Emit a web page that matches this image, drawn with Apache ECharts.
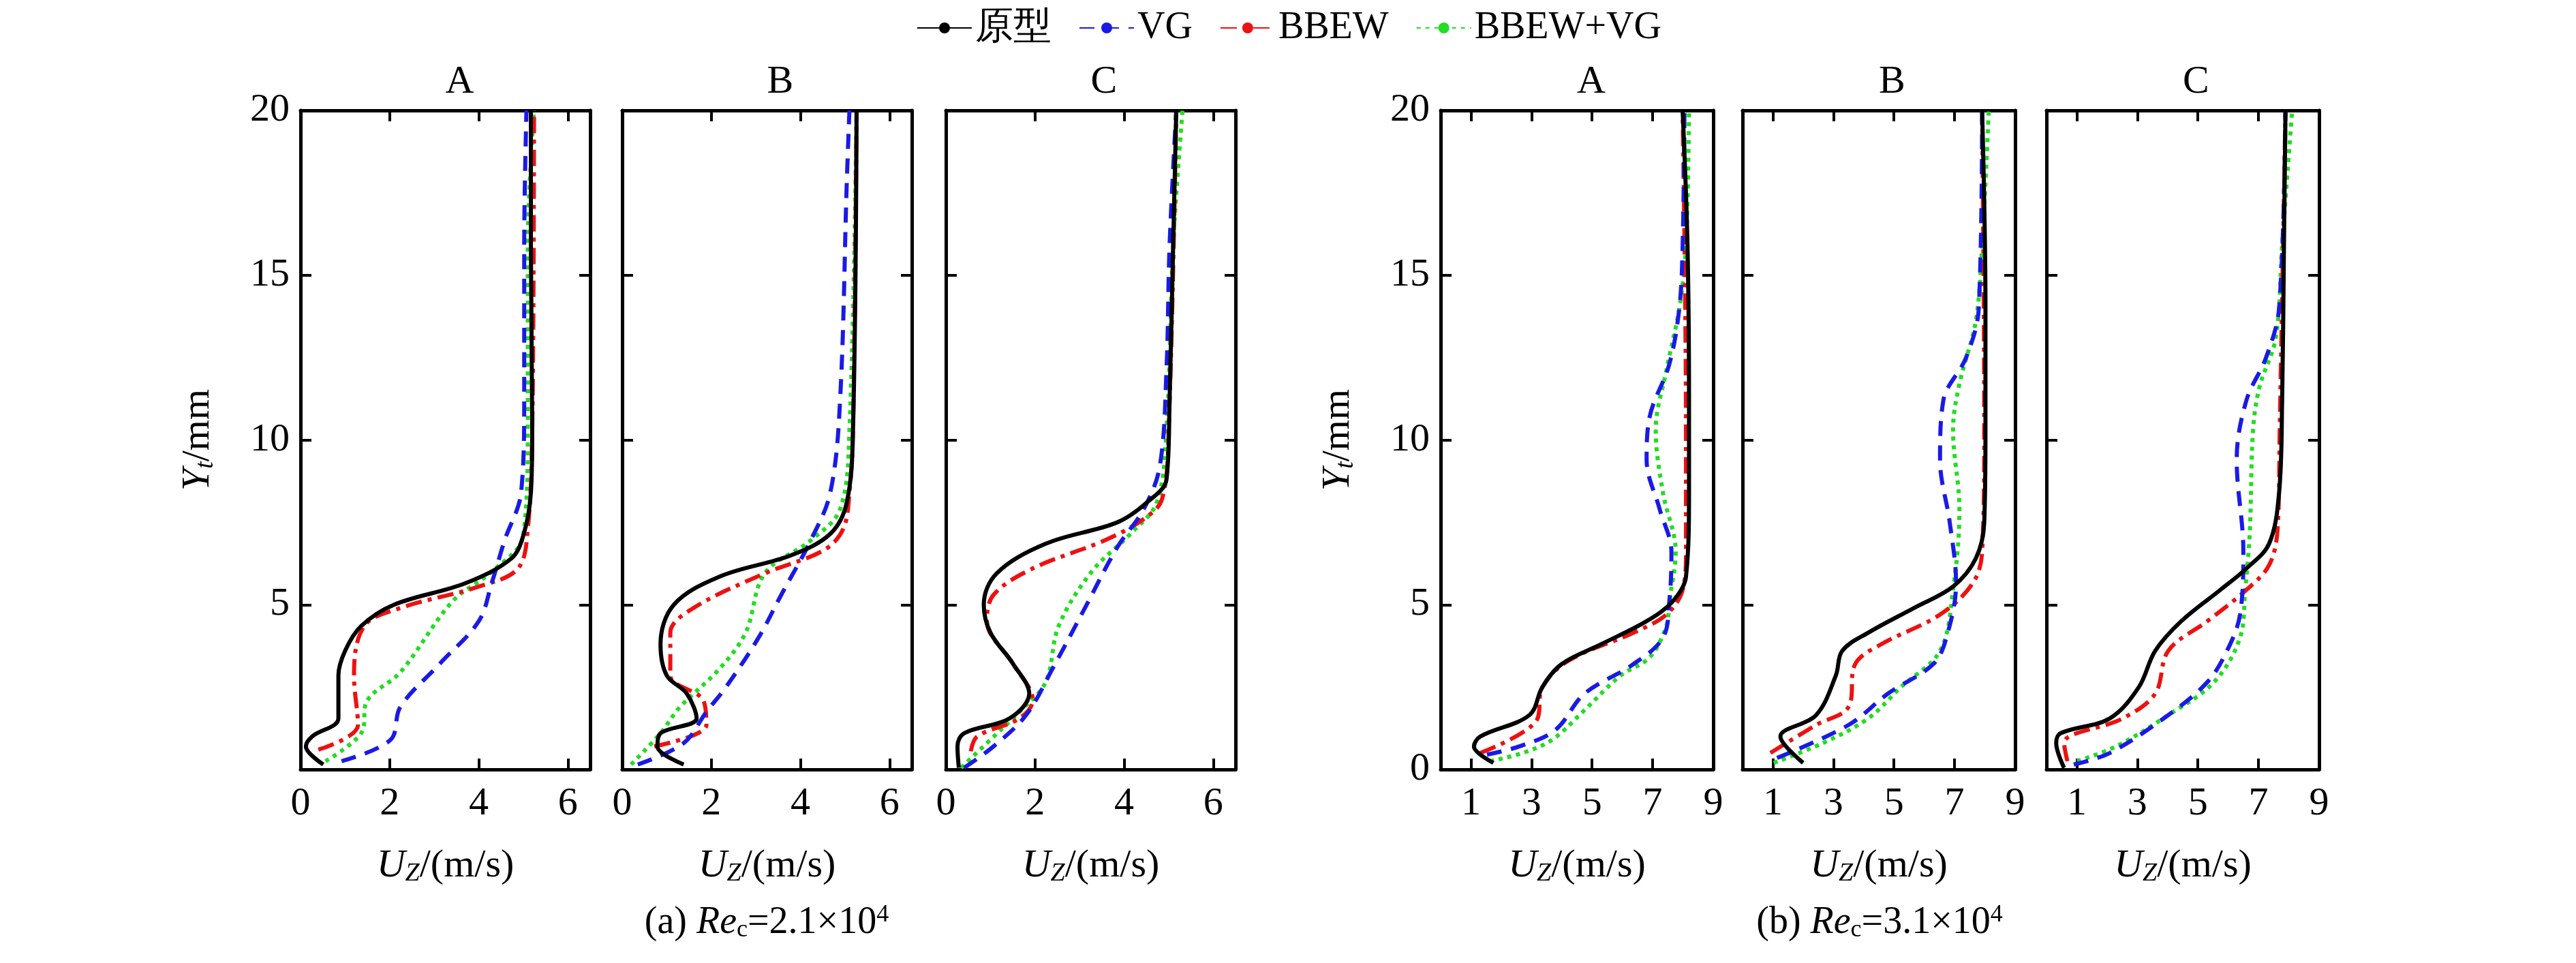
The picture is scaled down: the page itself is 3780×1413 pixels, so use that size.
<!DOCTYPE html>
<html><head><meta charset="utf-8">
<script src="https://cdn.jsdelivr.net/npm/echarts@6/dist/echarts.min.js"></script>
<style>html,body{margin:0;background:#fff}#c{width:3780px;height:1413px}</style>
</head><body><div id="c"></div>
<script>
const seriesNames = ['原型','VG','BBEW','BBEW+VG'];
const panelTitles = ['A','B','C','A','B','C'];
const yTicks_a = [5,10,15,20];
const yTicks_b = [0,5,10,15,20];
const xTicks_a = [0,2,4,6];
const xTicks_b = [1,3,5,7,9];

// (a) Re=2.1e4
const aA_proto = [[0.51,0.15],[0.12,0.7],[0.26,1.0],[0.85,1.55],[0.85,2.85],[1.0,3.6],[1.36,4.35],[2.1,5.0],[3.7,5.65],[4.73,6.4],[5.0,7.1],[5.17,8.4],[5.2,10.3],[5.17,15.9],[5.17,20]];
const aA_vg = [[0.92,0.25],[2.02,0.9],[2.24,1.9],[3.12,3.2],[4.0,4.5],[4.29,5.65],[4.58,6.95],[4.95,8.4],[5.02,11.2],[5.02,15.9],[5.07,20]];
const aA_bbew = [[0.4,0.6],[1.29,1.35],[1.2,2.85],[1.43,4.35],[2.24,4.9],[4.0,5.55],[4.88,6.1],[5.1,7.3],[5.2,10.3],[5.24,20]];
const aA_both = [[0.56,0.25],[1.36,1.1],[1.5,2.1],[2.24,2.95],[3.41,5.1],[4.29,6.0],[5.0,7.1],[5.1,10.3],[5.1,15.9],[5.24,20]];

const aB_proto = [[1.38,0.15],[0.79,0.7],[0.86,1.1],[1.67,1.55],[1.45,2.3],[1.0,2.85],[0.86,3.8],[1.16,5.0],[2.18,5.85],[3.79,6.5],[4.67,7.15],[5.04,8.1],[5.18,10.3],[5.26,20]];
const aB_vg = [[0.35,0.15],[1.38,0.8],[1.89,1.75],[2.33,2.5],[3.06,4.0],[3.57,5.3],[4.23,6.95],[4.67,8.4],[4.89,11.2],[5.04,17.8],[5.1,20]];
const aB_bbew = [[0.72,0.7],[1.89,1.35],[1.82,2.1],[1.08,2.85],[1.08,4.15],[1.6,4.9],[3.2,5.95],[4.52,6.65],[4.96,7.3],[5.1,8.4],[5.18,10.3],[5.26,20]];
const aB_both = [[0.2,0.15],[0.86,1.1],[1.3,1.9],[2.18,3.05],[2.77,4.15],[3.2,5.95],[4.23,6.95],[4.89,7.9],[5.1,10.3],[5.26,20]];

const aC_proto = [[0.29,0.05],[0.26,0.7],[0.41,1.1],[1.43,1.55],[1.87,2.3],[1.51,3.2],[1.0,4.15],[0.85,5.0],[1.14,5.95],[2.24,6.85],[3.85,7.5],[4.51,8.1],[4.95,8.8],[5.02,11.2],[5.1,15.9],[5.17,20]];
const aC_vg = [[0.41,0.05],[1.07,0.7],[1.8,1.65],[2.39,3.05],[3.12,4.9],[3.85,6.75],[4.44,7.9],[4.8,9.2],[4.95,12.1],[5.02,15.9],[5.17,20]];
const aC_bbew = [[0.56,0.55],[0.7,1.0],[1.65,1.55],[1.95,2.1],[1.51,3.2],[0.92,4.5],[1.07,5.3],[1.95,6.1],[3.56,6.95],[4.44,7.6],[4.85,8.2],[5.0,10.3],[5.17,20]];
const aC_both = [[0.34,0.05],[0.92,0.8],[1.65,1.75],[2.24,2.65],[2.53,4.35],[3.27,6.0],[4.14,7.15],[4.73,8.1],[4.95,10.3],[5.1,15.9],[5.31,20]];

// (b) Re=3.1e4
const bA_proto = [[1.74,0.2],[1.1,0.7],[1.31,1.0],[2.93,1.65],[3.36,2.5],[4.0,3.2],[5.3,3.8],[6.8,4.5],[7.66,5.1],[8.1,5.85],[8.2,8.4],[8.2,11.2],[8.15,15.9],[7.99,20]];
const bA_vg = [[1.53,0.45],[2.6,0.7],[3.79,1.2],[4.75,2.3],[6.37,3.2],[7.34,4.0],[7.55,5.1],[7.62,6.6],[7.23,7.9],[6.8,9.4],[6.9,10.7],[7.55,12.3],[7.88,14.0],[7.99,15.9],[8.05,20]];
const bA_bbew = [[1.31,0.5],[3.14,1.45],[3.36,2.5],[4.22,3.3],[6.37,4.15],[7.45,4.7],[7.99,5.45],[8.1,6.6],[8.1,10.3],[7.99,20]];
const bA_both = [[1.63,0.25],[2.71,0.5],[3.68,0.9],[4.75,1.8],[5.94,2.85],[6.9,3.4],[7.45,4.35],[7.55,5.1],[7.76,6.6],[7.34,8.4],[7.1,10.3],[7.45,12.1],[7.88,14.0],[8.1,15.9],[8.2,20]];

const bB_proto = [[2.0,0.2],[1.25,1.0],[2.43,1.65],[3.08,2.85],[3.29,3.6],[4.15,4.15],[5.66,4.9],[6.95,5.55],[7.7,6.4],[7.98,7.5],[8.02,10.3],[8.02,14.0],[7.91,20]];
const bB_vg = [[1.14,0.35],[3.5,1.35],[4.8,2.3],[6.3,3.2],[6.73,4.0],[7.05,5.65],[6.84,7.5],[6.52,9.4],[6.63,11.2],[7.38,12.5],[7.8,14.0],[7.91,20]];
const bB_bbew = [[0.92,0.5],[2.43,1.35],[3.5,1.9],[3.72,3.2],[4.58,3.8],[6.52,4.7],[7.6,5.65],[7.91,6.6],[7.98,10.3],[7.91,20]];
const bB_both = [[1.03,0.2],[2.65,0.8],[4.15,1.55],[5.23,2.5],[6.52,3.6],[6.95,5.45],[7.16,7.9],[6.95,10.3],[7.16,11.7],[7.7,13.6],[7.91,15.9],[8.13,20]];

const bC_proto = [[0.58,0.05],[0.32,0.8],[0.47,1.1],[2.09,1.55],[3.05,2.5],[3.59,3.6],[4.45,4.5],[5.74,5.45],[6.6,6.1],[7.35,6.85],[7.68,8.4],[7.78,11.2],[7.84,15.9],[7.89,20]];
const bC_vg = [[0.9,0.15],[2.09,0.5],[4.02,1.65],[5.31,2.65],[5.96,3.6],[6.39,4.7],[6.5,6.6],[6.28,9.4],[6.6,11.2],[7.25,12.5],[7.68,14.0],[7.89,20]];
const bC_bbew = [[0.69,0.25],[0.58,0.8],[2.52,1.55],[3.59,2.3],[4.02,3.6],[5.31,4.5],[6.6,5.45],[7.35,6.2],[7.63,7.3],[7.7,10.3],[7.89,20]];
const bC_both = [[1.01,0.25],[2.3,0.7],[4.02,1.65],[5.53,2.65],[6.39,4.0],[6.56,5.45],[6.71,7.15],[6.82,10.3],[7.03,11.6],[7.57,13.1],[7.78,15.9],[8.11,20]];

const panels = [
  [aA_proto,aA_vg,aA_bbew,aA_both],[aB_proto,aB_vg,aB_bbew,aB_both],[aC_proto,aC_vg,aC_bbew,aC_both],
  [bA_proto,bA_vg,bA_bbew,bA_both],[bB_proto,bB_vg,bB_bbew,bB_both],[bC_proto,bC_vg,bC_bbew,bC_both]
];
const lefts = [441,913,1388,2114,2557,3003];
const widths = [425,425,425,400,400,400];
const TOP = 162, H = 967;
const FONT = '"Liberation Serif","DejaVu Serif",serif';
const styles = [
  {color:'#000000', type:'solid'},
  {color:'#1a1ae6', type:[22,14]},
  {color:'#ee1111', type:[24,9,6,9]},
  {color:'#22dd22', type:[6,7]}
];

const grid=[], xAxis=[], yAxis=[], series=[], graphic=[];
const rich = {i:{fontStyle:'italic',fontFamily:FONT,fontSize:58,color:'#000'},
  s:{fontStyle:'italic',fontFamily:FONT,fontSize:38,color:'#000',verticalAlign:'bottom',padding:[22,0,0,0]},
  n:{fontFamily:FONT,fontSize:58,color:'#000'}};
panels.forEach((p,k)=>{
  const isA = k<3;
  grid.push({left:lefts[k],top:TOP,width:widths[k],height:H});
  const xt = isA?xTicks_a:xTicks_b, yt = isA?yTicks_a:yTicks_b;
  const xmin=0, xmax = isA?6.5:9;
  const axLine = {show:true,onZero:false,lineStyle:{color:'#000',width:5}};
  const tick = (vals)=>({show:true,inside:true,length:16,lineStyle:{color:'#000',width:4},customValues:vals});
  xAxis.push({type:'value',gridIndex:k,min:xmin,max:xmax,position:'bottom',axisLine:axLine,axisTick:tick(xt),
    splitLine:{show:false},axisLabel:{customValues:xt,fontFamily:FONT,fontSize:58,color:'#000',margin:22},
    name:'{i|U}{s|Z}{n|/(m/s)}',nameLocation:'middle',nameGap:112,nameTextStyle:{rich}});
  xAxis.push({type:'value',gridIndex:k,min:xmin,max:xmax,position:'top',axisLine:axLine,axisTick:tick(xt),splitLine:{show:false},axisLabel:{show:false}});
  const yl = {type:'value',gridIndex:k,min:0,max:20,position:'left',axisLine:axLine,axisTick:tick(yt),splitLine:{show:false},
    axisLabel:{show:k===0||k===3,customValues:yt,fontFamily:FONT,fontSize:58,color:'#000',margin:16}};
  if(k===0||k===3){Object.assign(yl,{name:'{i|Y}{s|t}{n|/mm}',nameLocation:'middle',nameRotate:90,nameGap:120,nameTextStyle:{rich}});}
  yAxis.push(yl);
  yAxis.push({type:'value',gridIndex:k,min:0,max:20,position:'right',axisLine:axLine,axisTick:tick(yt),splitLine:{show:false},axisLabel:{show:false}});
  p.forEach((d,j)=>{
    series.push({type:'line',name:seriesNames[j],xAxisIndex:2*k,yAxisIndex:2*k,data:d,smooth:0.35,symbol:'none',
      lineStyle:{color:styles[j].color,type:styles[j].type,width:6},itemStyle:{color:styles[j].color},z:10-j});
  });
  graphic.push({type:'text',left:lefts[k]+widths[k]/2,top:92,style:{text:panelTitles[k],font:'58px '+FONT,fill:'#000',textAlign:'center'}});
});
const cap = (x,label,num)=>({type:'text',x:x,y:1325,style:{
  text:'{n|'+label+' }{i|Re}{s|c}{n|='+num+'×10}{p|4}',textAlign:'center',
  rich:{n:{font:'56px '+FONT,fill:'#000'},i:{font:'italic 56px '+FONT,fill:'#000'},
   s:{font:'36px '+FONT,fill:'#000',verticalAlign:'bottom',padding:[22,0,0,0]},
   p:{font:'36px '+FONT,fill:'#000',verticalAlign:'top',padding:[0,0,22,0]}}}});
graphic.push(cap(1125,'(a)','2.1'));
graphic.push(cap(2758,'(b)','3.1'));

const chart = echarts.init(document.getElementById('c'));
chart.setOption({
  animation:false,
  legend:{data:seriesNames,top:8,left:1340,width:1600,orient:'horizontal',itemWidth:80,itemHeight:20,itemGap:40,
    textStyle:{fontFamily:FONT,fontSize:56,color:'#000'}},
  grid,xAxis,yAxis,series,graphic
});
</script></body></html>
